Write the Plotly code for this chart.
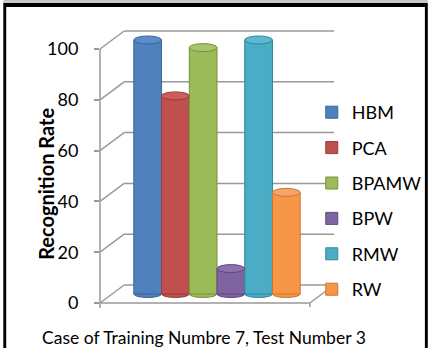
import plotly.graph_objects as go

# ---------------- data ----------------
categories = ["Case of Training Numbre 7, Test Number 3"]
series_names = ["HBM", "PCA", "BPAMW", "BPW", "RMW", "RW"]
series_values = [100, 78, 97, 10, 100, 40]
tick_values = [0, 20, 40, 60, 80, 100]
y_title = "Recognition Rate"

colors = ["#4F81BD", "#C0504D", "#9BBB59", "#8064A2", "#4BACC6", "#F79646"]
edge_colors = ["#3A6496", "#983C3A", "#76923C", "#5F497A", "#31859C", "#C7772F"]
cap_colors = ["#5B8DC8", "#C95E5B", "#A7C56A", "#8C72AD", "#5CB7D0", "#F8A468"]

# ---------------- layout geometry (pixels) ----------------
W, H = 439, 348
L_PX, R_PX = 100, 342          # plot area left (front axis) / right (back wall end)
T_PX, B_PX = 28, 308           # plot area top / bottom
PPU = 2.54                     # pixels per unit
FRONT0, MID0 = 303, 294        # pixel y of value 0 on front plane / mid plane
DEPTH_X, DEPTH_Y = 25, 18      # front -> back offset
GRID = "#999999"
FONT = "Lato"
BARGAP = 0.289

pw, ph = R_PX - L_PX, B_PX - T_PX
def px(x):
    return (x - L_PX) / pw
def py(y):
    return (B_PX - y) / ph

front_range = [(FRONT0 - B_PX) / PPU, (FRONT0 - T_PX) / PPU]
mid_range = [(MID0 - B_PX) / PPU, (MID0 - T_PX) / PPU]

fig = go.Figure()
for i, (name, val) in enumerate(zip(series_names, series_values)):
    fig.add_trace(go.Bar(
        x=categories, y=[val], name=name, yaxis="y2",
        marker=dict(color=colors[i], line=dict(color=edge_colors[i], width=1)),
        legendgroup=name,
    ))

shapes = []
# back wall gridlines + left diagonals
for v in tick_values:
    shapes.append(dict(type="line", xref="paper", yref="y", ysizemode="pixel", yanchor=v,
                       x0=px(L_PX + DEPTH_X), x1=1, y0=DEPTH_Y, y1=DEPTH_Y,
                       line=dict(color=GRID, width=1.5), layer="below"))
    shapes.append(dict(type="line", xref="paper", yref="y", ysizemode="pixel", yanchor=v,
                       x0=0, x1=px(L_PX + DEPTH_X), y0=0, y1=DEPTH_Y,
                       line=dict(color=GRID, width=1.5), layer="below"))
# front vertical axis
shapes.append(dict(type="line", xref="paper", yref="y", x0=0, x1=0,
                   y0=front_range[0], y1=max(tick_values),
                   line=dict(color=GRID, width=1.5), layer="below"))
# floor front edge, right diagonal, small tick
floor_right = px(R_PX - DEPTH_X)
shapes.append(dict(type="line", xref="paper", yref="y", x0=0, x1=floor_right, y0=0, y1=0,
                   line=dict(color=GRID, width=1.5), layer="below"))
shapes.append(dict(type="line", xref="paper", yref="y", ysizemode="pixel", yanchor=0,
                   x0=floor_right, x1=1, y0=0, y1=DEPTH_Y,
                   line=dict(color=GRID, width=1.5), layer="below"))
shapes.append(dict(type="line", xref="paper", yref="y", ysizemode="pixel", yanchor=0,
                   x0=floor_right, x1=floor_right, y0=0, y1=-4,
                   line=dict(color=GRID, width=1.5), layer="below"))

# cylinder caps (top and bottom ellipses), positioned from bar geometry
n = len(series_values)
group_w = 1 - BARGAP
bw = group_w / n
for i, val in enumerate(series_values):
    x0 = -group_w / 2 + i * bw
    x1 = x0 + bw
    shapes.append(dict(type="circle", xref="x", yref="y2", ysizemode="pixel", yanchor=0,
                       x0=x0, x1=x1, y0=-3.5, y1=3.5,
                       fillcolor=colors[i], line=dict(color=edge_colors[i], width=1), layer="below"))
    shapes.append(dict(type="circle", xref="x", yref="y2", ysizemode="pixel", yanchor=val,
                       x0=x0, x1=x1, y0=-4, y1=4,
                       fillcolor=cap_colors[i], line=dict(color=edge_colors[i], width=1), layer="above"))

# picture frame
shapes.append(dict(type="rect", xref="paper", yref="paper", x0=px(0), x1=px(W), y0=py(3), y1=py(7),
                   fillcolor="black", line=dict(width=0), layer="above"))
shapes.append(dict(type="rect", xref="paper", yref="paper", x0=px(0), x1=px(W), y0=py(0), y1=py(3),
                   fillcolor="#c8c8c8", line=dict(width=0), layer="above"))
shapes.append(dict(type="rect", xref="paper", yref="paper", x0=px(0), x1=px(3), y0=py(H), y1=py(7),
                   fillcolor="black", line=dict(width=0), layer="above"))
shapes.append(dict(type="rect", xref="paper", yref="paper", x0=px(436), x1=px(W), y0=py(H), y1=py(7),
                   fillcolor="black", line=dict(width=0), layer="above"))

annotations = [
    dict(text=y_title, textangle=-90, x=px(44), y=py(184), xref="paper", yref="paper",
         showarrow=False, xanchor="center", yanchor="middle",
         font=dict(family=FONT, size=20, color="black", weight="bold")),
    dict(text=categories[0], x=px(208), y=py(337), xref="paper", yref="paper",
         showarrow=False, xanchor="center", yanchor="middle",
         font=dict(family=FONT, size=17.5, color="black")),
]

fig.update_layout(
    width=W, height=H,
    margin=dict(l=L_PX, r=W - R_PX, t=T_PX, b=H - B_PX, pad=0),
    paper_bgcolor="white", plot_bgcolor="rgba(0,0,0,0)",
    barmode="group", bargap=BARGAP, bargroupgap=0,
    font=dict(family=FONT, size=18, color="black"),
    showlegend=True,
    legend=dict(x=px(319), y=py(94), xanchor="left", yanchor="top",
                font=dict(family=FONT, size=18, color="black"),
                tracegroupgap=9, bgcolor="rgba(0,0,0,0)"),
    xaxis=dict(type="category", range=[-0.5, 0.5], showticklabels=False, showgrid=False,
               zeroline=False, showline=False, ticks=""),
    yaxis=dict(range=front_range, tickvals=tick_values, showgrid=False, zeroline=False,
               showline=False, ticks="outside", ticklen=5, tickcolor=GRID, tickwidth=1.5,
               ticklabelstandoff=12, tickfont=dict(family=FONT, size=18, color="black")),
    yaxis2=dict(range=mid_range, overlaying="y", visible=False),
    shapes=shapes,
    annotations=annotations,
)

fig.write_html("out.html")
